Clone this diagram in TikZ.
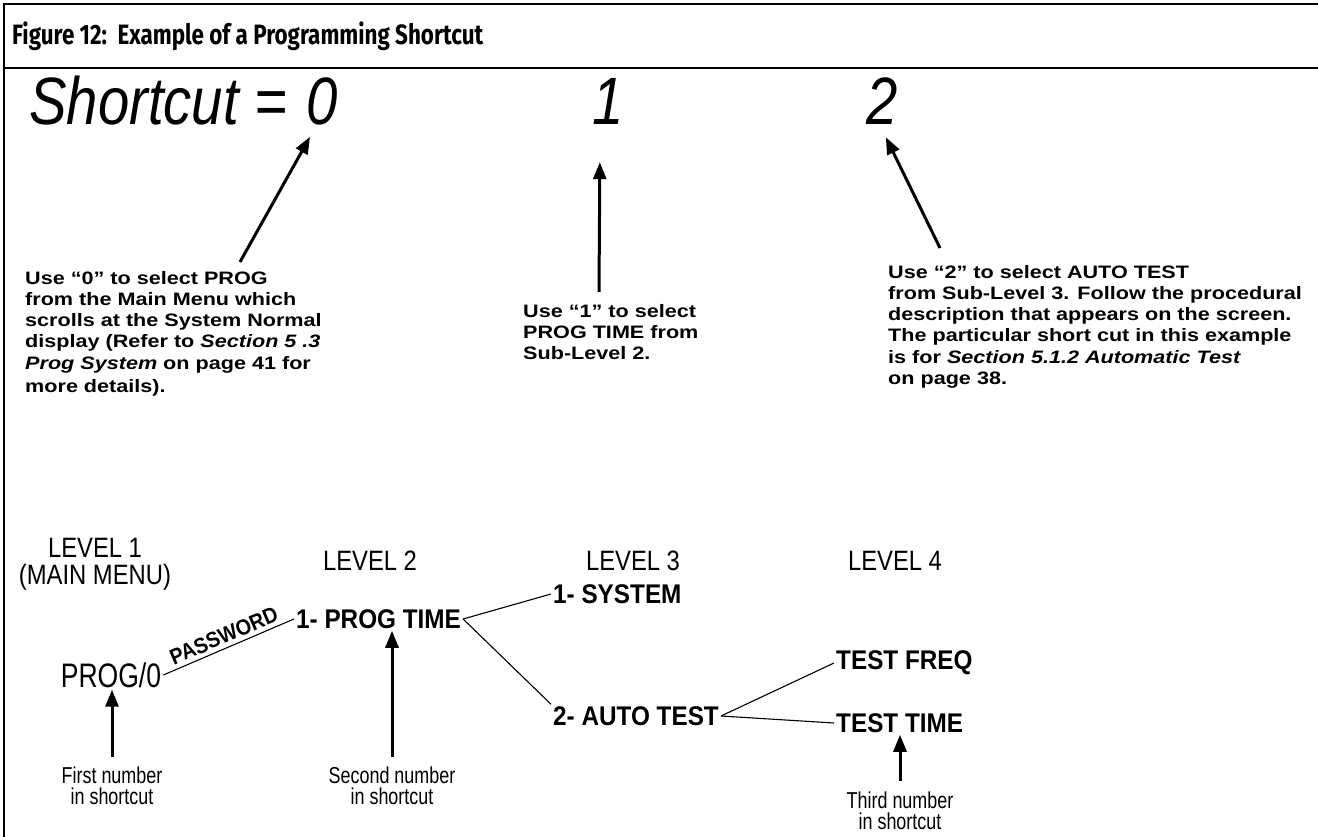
\documentclass[tikz,border=0pt]{standalone}
\usepackage{fontspec}
\setmainfont{Liberation Sans}
\newfontfamily\narrowsans[FakeStretch=0.78]{Liberation Sans}
\newfontfamily\levelsans[FakeStretch=0.85]{Liberation Sans}
\newfontfamily\digitsans[FakeStretch=0.84]{Liberation Sans}
\newfontfamily\itemsans[FakeStretch=0.9]{Liberation Sans}
\newfontfamily\widesans[FakeStretch=1.2]{Liberation Sans}
\newfontfamily\headsans[FakeStretch=0.80]{Fira Sans}
\usetikzlibrary{arrows.meta,positioning}

\begin{document}
\begin{tikzpicture}[x=1pt,y=-1pt,
    note/.style={anchor=north west, align=left, inner sep=0pt,
        font=\widesans\bfseries\fontsize{18}{21.2}\selectfont},
    level/.style={align=center, inner sep=0pt, font=\levelsans\fontsize{28}{27}\selectfont},
    item/.style={inner sep=2pt, font=\itemsans\bfseries\fontsize{27}{27}\selectfont},
    digit/.style={anchor=base west, inner sep=0pt, font=\digitsans\itshape\fontsize{67}{67}\selectfont},
    sub/.style={align=center, inner sep=0pt, font=\narrowsans\fontsize{23}{21}\selectfont},
    pointer/.style={-{Triangle[length=17pt,width=13pt]}, line width=3pt},
    branch/.style={line width=1.1pt},
    rule/.style={line width=2.4pt}
]
\useasboundingbox (0,0) rectangle (1318,837);

% frame and caption
\draw[rule] (4,837) -- (4,4) -- (1318,4);
\draw[rule] (4,68) -- (1318,68);
\node[anchor=west, inner sep=0pt, font=\headsans\bfseries\fontsize{28}{28}\selectfont] (title) at (12,36) {Figure 12:~~Example of a Programming Shortcut};

% shortcut digits
\node[digit] (scut) at (29,125) {Shortcut =};
\node[digit] (d0) at (306,125) {0};
\node[digit] (d1) at (592,125) {1};
\node[digit] (d2) at (866,125) {2};

% explanations
\node[note] (note0) at (25,271) {Use “0” to select PROG\\from the Main Menu which\\scrolls at the System Normal\\display (Refer to \textit{Section 5 .3}\\\textit{Prog System} on page 41 for\\[2pt]more details).};
\node[note] (note1) at (523,304) {Use “1” to select\\PROG TIME from\\Sub-Level 2.};
\node[note] (note2) at (888,265) {Use “2” to select AUTO TEST\\from Sub-Level 3. Follow the procedural\\description that appears on the screen.\\The particular short cut in this example\\is for \textit{Section 5.1.2 Automatic Test}\\on page 38.};

\draw[pointer] ([shift={(215,-9)}]note0.north west) -- ([shift={(4,11)}]d0.south west);
\draw[pointer] ([shift={(76,-12)}]note1.north west) -- ([shift={(-8,37)}]d1.south);
\draw[pointer] ([shift={(52,-17)}]note2.north west) -- ([shift={(4,12)}]d2.south);

% menu levels
\node[level] (lvl1) at (95,564) {LEVEL 1\\(MAIN MENU)};
\node[level] (lvl2) at (370,561) {LEVEL 2};
\node[level] (lvl3) at (633,561) {LEVEL 3};
\node[level] (lvl4) at (895,561) {LEVEL 4};

% menu tree
\node[font=\narrowsans\fontsize{34}{34}\selectfont, inner sep=2pt] (prog) at (111,675) {PROG/0};
\node[item, anchor=west] (ptime) at (294,619) {1- PROG TIME};
\node[item, anchor=west] (sys) at (551,594) {1- SYSTEM};
\node[item, anchor=west] (auto) at (551,716) {2- AUTO TEST};
\node[item, anchor=west] (freq) at (834,663) {TEST FREQ};
\node[item, anchor=west] (ttime) at (834,723) {TEST TIME};

\draw[branch] (prog.east) -- node[sloped, above, pos=0.5, inner sep=4pt, font=\itemsans\bfseries\fontsize{22}{22}\selectfont] {PASSWORD} (ptime.west);
\draw[branch] (ptime.east) -- (sys.west);
\draw[branch] (ptime.east) -- (auto.north west);
\draw[branch] (auto.east) -- (freq.west);
\draw[branch] (auto.east) -- (ttime.west);

% number hints
\node[sub] (first) at (112,786) {First number\\in shortcut};
\node[sub] (second) at (392,786) {Second number\\in shortcut};
\node[sub] (third) at (900,811) {Third number\\in shortcut};
\draw[pointer] ([yshift=10pt]first.north) -- (first.north |- prog.south);
\draw[pointer] ([yshift=10pt]second.north) -- (second.north |- ptime.south);
\draw[pointer] ([yshift=11pt]third.north) -- (third.north |- ttime.south);
\end{tikzpicture}
\end{document}
